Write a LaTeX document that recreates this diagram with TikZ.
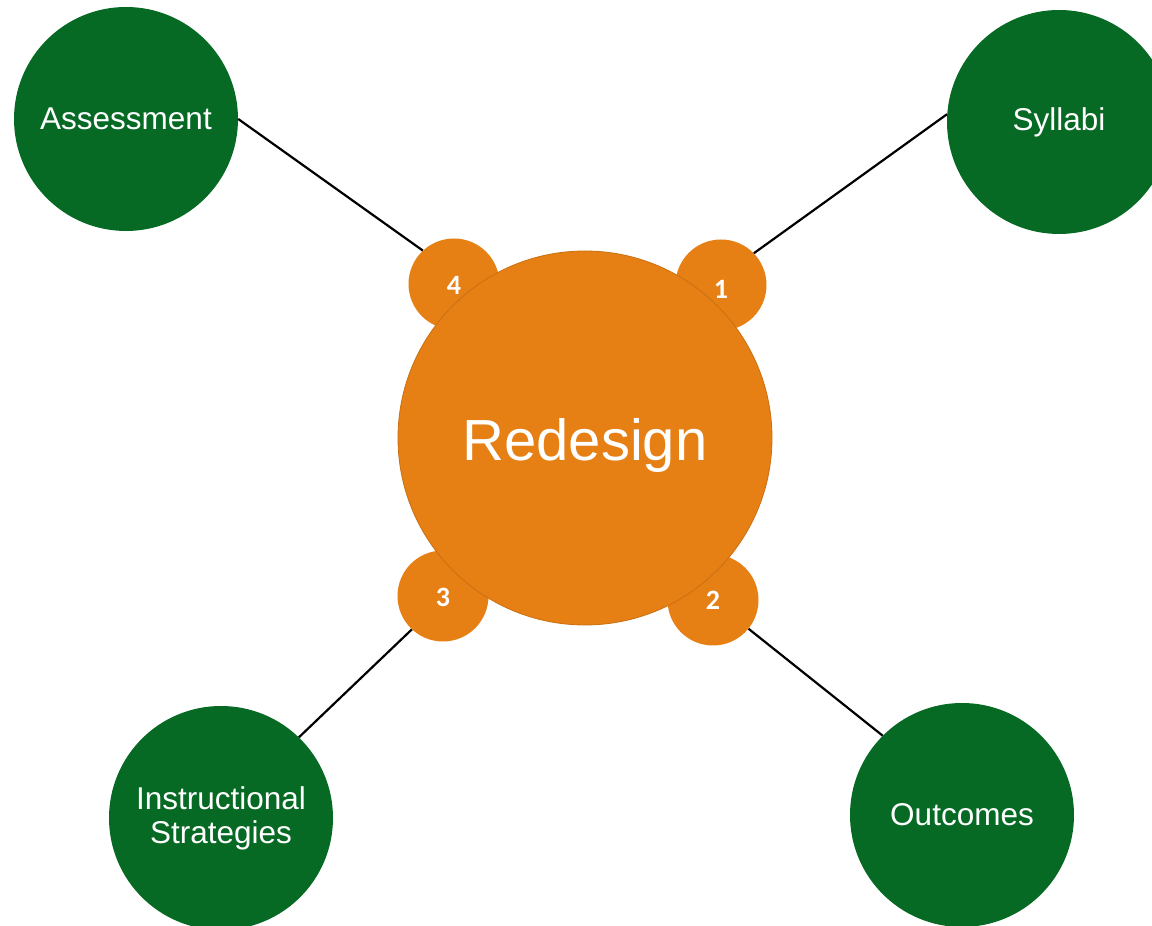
\documentclass[tikz,border=0pt]{standalone}
\usepackage{fontspec}
\setmainfont{Liberation Sans}
\newfontfamily\numfont{Carlito}
\usetikzlibrary{shapes}
\definecolor{redorange}{RGB}{230,127,20}
\definecolor{topicgreen}{RGB}{6,106,36}
\tikzstyle{hub}=[circle,fill=redorange,draw=redorange!88!black,line width=0.8pt,text=white,inner sep=0pt,minimum size=374pt,font=\fontsize{58}{60}\selectfont]
\tikzstyle{stepdot}=[circle,fill=redorange,text=white,inner sep=0pt,minimum size=91pt,text depth=0pt,font=\numfont\bfseries\fontsize{28}{30}\selectfont]
\tikzstyle{topic}=[circle,fill=topicgreen,text=white,inner sep=0pt,minimum size=224pt,align=center,font=\fontsize{31.5}{34}\selectfont]
\tikzstyle{link}=[draw=black,line width=2.2pt]

\begin{document}
\begin{tikzpicture}[x=1pt,y=1pt]
	\useasboundingbox (0,0) rectangle (1152,926);

	% numbered steps behind the hub
	\node[stepdot,text height=22pt] (n4) at (454,642) {4};
	\node[stepdot,text height=28pt] (n1) at (721,641) {1};
	\node[stepdot,text height=22pt] (n3) at (443,330) {3};
	\node[stepdot,text height=20pt] (n2) at (713,326) {2};
	\node[hub,text height=58pt,text depth=12pt] (redesign) at (585,488) {Redesign};

	% topics
	\node[topic] (assess) at (126,807) {Assessment};
	\node[topic] (syllabi) at (1059,804) {Syllabi};
	\node[topic] (instr) at (221,108) {Instructional\\Strategies};
	\node[topic] (outcomes) at (962,111) {Outcomes};

	\draw[link] (assess.0) -- (n4.133);
	\draw[link] (syllabi.176) -- (n1.44);
	\draw[link] (instr.46) -- (n3.227);
	\draw[link] (outcomes.135) -- (n2.321);
\end{tikzpicture}
\end{document}
